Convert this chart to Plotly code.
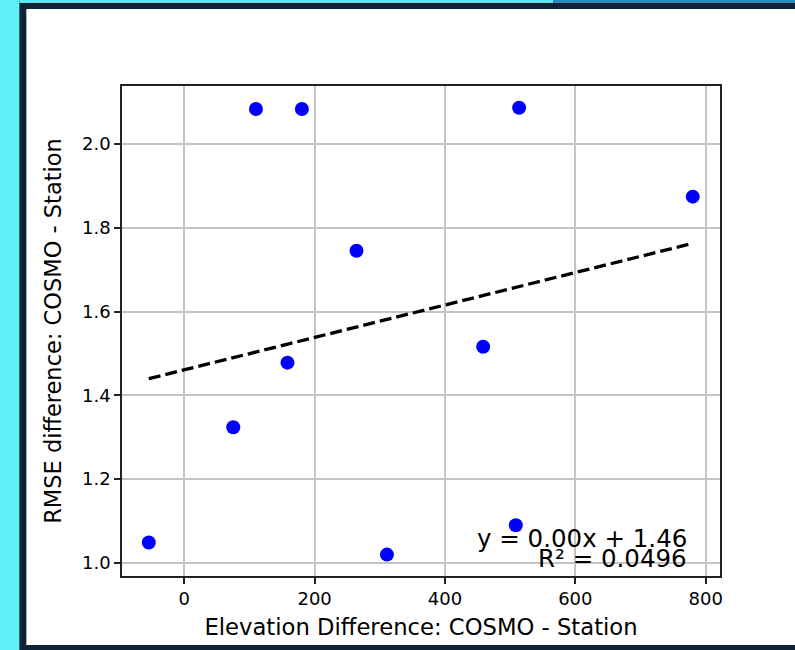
import numpy as np
import plotly.graph_objects as go

# ---- data ----
elev_diff = [-54.4, 75.2, 110.0, 158.4, 180.5, 264.3, 311.0, 458.6, 508.7, 513.8, 780.2]
rmse_diff = [1.049, 1.324, 2.083, 1.478, 2.083, 1.745, 1.020, 1.516, 1.090, 2.086, 1.874]
x_ticks = [0, 200, 400, 600, 800]
y_ticks = [1.0, 1.2, 1.4, 1.6, 1.8, 2.0]
eq_text = "y = 0.00x + 1.46"
r2_text = "R² = 0.0496"
x_title = "Elevation Difference: COSMO - Station"
y_title = "RMSE difference: COSMO - Station"

# linear fit
slope, intercept = np.polyfit(elev_diff, rmse_diff, 1)
fit_x = [min(elev_diff), max(elev_diff)]
fit_y = [slope * v + intercept for v in fit_x]

W, H = 795, 650
L, R, T, B = 121.7, 720.0, 86.0, 576.0
pw, ph = R - L, B - T


def px(x):
    return (x - L) / pw


def py(y):
    return (B - y) / ph


fig = go.Figure()
fig.add_trace(go.Scatter(
    x=elev_diff, y=rmse_diff, mode="markers",
    marker=dict(color="#0000ff", size=14, line=dict(width=0)),
    showlegend=False, hoverinfo="x+y"))
fig.add_trace(go.Scatter(
    x=fit_x, y=fit_y, mode="lines",
    line=dict(color="black", width=3.3, dash="12px,5px"),
    showlegend=False))

shapes = [
    # white card
    dict(type="rect", xref="paper", yref="paper", layer="below",
         x0=px(26), x1=px(W + 5), y0=py(645), y1=py(9),
         fillcolor="white", line=dict(width=0)),
    # cyan left strip
    dict(type="rect", xref="paper", yref="paper", layer="below",
         x0=px(-5), x1=px(19), y0=py(H + 5), y1=py(-5),
         fillcolor="#5ef2f8", line=dict(width=0)),
    # top strips
    dict(type="rect", xref="paper", yref="paper", layer="below",
         x0=px(19), x1=px(553), y0=py(3), y1=py(-5),
         fillcolor="#5ee6f0", line=dict(width=0)),
    dict(type="rect", xref="paper", yref="paper", layer="below",
         x0=px(553), x1=px(W + 5), y0=py(3), y1=py(-5),
         fillcolor="#2b8cbf", line=dict(width=0)),
]

annotations = [
    dict(x=775, y=1.058, xref="x", yref="y", text=eq_text, showarrow=False,
         xanchor="right", yanchor="middle",
         font=dict(family="DejaVu Sans", size=24.5, color="black")),
    dict(x=775, y=1.010, xref="x", yref="y", text=r2_text, showarrow=False,
         xanchor="right", yanchor="middle",
         font=dict(family="DejaVu Sans", size=24.5, color="black")),
]

axis_common = dict(
    showline=True, linecolor="#222222", linewidth=1.5, mirror=True,
    ticks="outside", ticklen=6, tickwidth=1.5, tickcolor="#222222",
    showgrid=True, gridcolor="#c4c4c4", gridwidth=1.5,
    zeroline=False,
    tickfont=dict(family="DejaVu Sans", size=18, color="black"),
)

fig.update_layout(
    width=W, height=H,
    margin=dict(l=L, r=W - R, t=T, b=H - B, pad=0),
    paper_bgcolor="#0f2236",
    plot_bgcolor="white",
    shapes=shapes,
    annotations=annotations,
    xaxis=dict(range=[-95.5, 822], tickvals=x_ticks,
               title=dict(text=x_title, standoff=11,
                          font=dict(family="DejaVu Sans", size=22.7, color="black")),
               **axis_common),
    yaxis=dict(range=[0.969, 2.138], tickvals=y_ticks, tickformat=".1f",
               title=dict(text=y_title, standoff=14,
                          font=dict(family="DejaVu Sans", size=22.5, color="black")),
               **axis_common),
)

fig.write_html(
    "out.html",
    config={"displayModeBar": False},
    post_script="document.body.style.margin='0';document.body.style.overflow='hidden';",
)
